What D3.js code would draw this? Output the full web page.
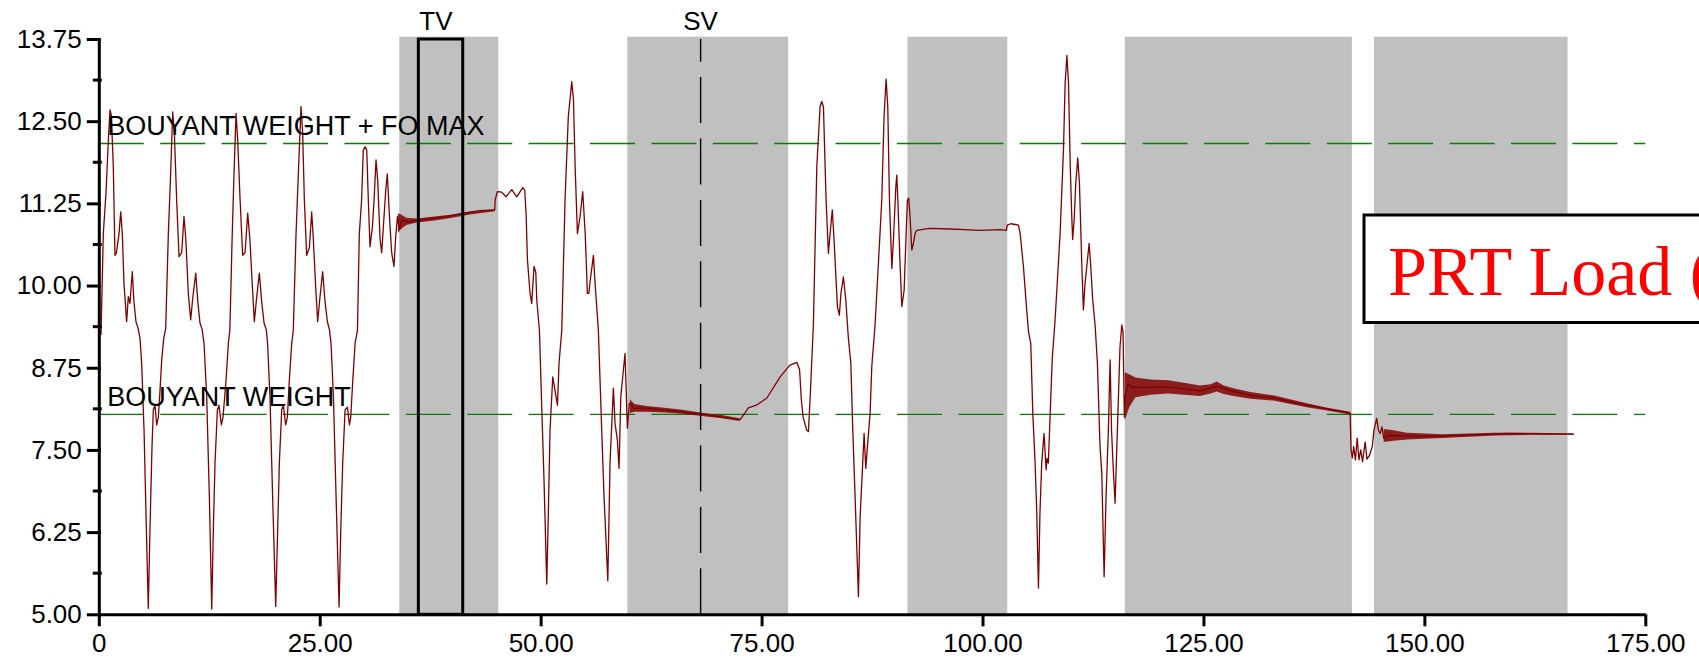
<!DOCTYPE html>
<html>
<head>
<meta charset="utf-8">
<script src="https://cdn.jsdelivr.net/npm/d3@7"></script>
<style>
body { margin: 0; background: #fff; overflow: hidden; }
text { font-family: Arial, "Liberation Sans", sans-serif; }
</style>
</head>
<body>
<div id="chart"></div>
<script>
let w = 1699, h = 660

let xTicks = [0, 25, 50, 75, 100, 125, 150, 175]
let yTicks = [5, 6.25, 7.5, 8.75, 10, 11.25, 12.5, 13.75]
let yMinorTicks = [5.625, 6.875, 8.125, 9.375, 10.625, 11.875, 13.125]

// grey windows on the time axis
let bands = [[34.0, 45.2], [59.8, 78.0], [91.5, 102.8], [116.1, 141.8], [144.3, 166.2]]
let refLines = [
	{label: "BOUYANT WEIGHT + FO MAX", value: 12.16},
	{label: "BOUYANT WEIGHT", value: 8.04}
]
let tvWindow = [36.16, 41.18]
let svTime = 68.1

// PRT load trace, [time, load]
let trace = [
	[0.25,9.25],[0.51,10.79],[0.81,11.4],[1.12,12.32],[1.27,12.67],[1.42,12.59],[1.64,11.81],[1.83,10.46],[2.0,10.5],
	[2.29,10.79],[2.48,11.12],[2.66,10.79],[2.85,10.03],[3.15,9.45],[3.34,9.83],[3.53,9.73],[3.79,10.21],[3.98,9.75],
	[4.21,9.45],[4.45,9.35],[4.66,9.2],[4.85,8.82],[5.12,7.8],[5.34,6.54],[5.6,5.09],[5.79,6.28],[6.02,7.55],[6.17,8.11],
	[6.36,8.18],[6.55,7.88],[6.74,8.0],[6.93,8.41],[7.12,8.87],[7.35,9.2],[7.57,9.35],[7.87,10.79],[8.13,11.7],[8.36,12.64],
	[8.55,12.32],[8.81,11.3],[9.08,10.44],[9.38,10.5],[9.64,11.05],[9.85,10.7],[10.13,9.88],[10.4,9.48],[10.62,9.8],
	[10.97,10.19],[11.2,9.76],[11.45,9.43],[11.7,9.33],[11.91,9.12],[12.21,8.31],[12.51,6.79],[12.78,5.08],[12.96,6.28],
	[13.15,7.3],[13.42,8.11],[13.6,8.18],[13.87,7.88],[14.06,8.0],[14.4,8.56],[14.66,9.12],[14.83,9.32],[15.1,10.79],
	[15.3,11.7],[15.53,12.62],[15.72,12.2],[15.99,11.3],[16.28,10.46],[16.55,10.5],[16.85,11.1],[17.1,10.7],[17.38,9.98],
	[17.6,9.45],[17.87,9.83],[18.17,10.19],[18.43,9.76],[18.7,9.43],[18.95,9.33],[19.1,9.12],[19.37,8.31],[19.67,6.79],
	[20.02,5.12],[20.24,6.28],[20.43,7.3],[20.7,8.11],[20.88,8.18],[21.15,7.88],[21.34,8.0],[21.56,8.56],[21.83,9.12],
	[22.01,9.32],[22.32,10.79],[22.58,11.7],[22.88,12.72],[23.07,12.32],[23.26,11.3],[23.52,10.46],[23.83,10.58],
	[24.09,11.12],[24.28,10.7],[24.54,9.98],[24.77,9.45],[25.03,9.83],[25.33,10.21],[25.6,9.76],[25.87,9.45],[26.1,9.33],
	[26.28,9.12],[26.55,8.31],[26.85,6.79],[27.19,5.11],[27.38,6.28],[27.6,7.3],[27.87,8.11],[28.13,8.15],[28.36,7.88],
	[28.51,8.0],[28.74,8.56],[29.0,9.12],[29.27,9.32],[29.48,10.79],[29.74,11.3],[29.93,12.06],[30.13,12.11],[30.32,12.06],
	[30.5,11.3],[30.69,10.59],[30.96,10.89],[31.15,11.3],[31.37,11.91],[31.56,11.6],[31.83,10.7],[32.01,10.5],[32.2,10.89],
	[32.47,11.45],[32.65,11.7],[32.87,11.1],[33.14,10.5],[33.4,10.29],[33.6,10.75],[33.8,11.05],[34.0,10.85],[34.3,11.0],
	[35.0,10.97],[37.5,11.02],[39.4,11.05],[41.25,11.1],[43.1,11.14],[44.8,11.15],[44.85,11.3],[45.1,11.43],[45.6,11.42],
	[46.08,11.35],[46.73,11.46],[47.3,11.35],[47.97,11.49],[48.2,11.45],[48.35,11.1],[48.5,10.4],[48.8,9.88],[48.99,9.73],
	[49.25,10.29],[49.45,10.2],[49.56,9.78],[49.86,9.32],[50.12,8.16],[50.38,7.04],[50.69,5.46],[50.87,6.54],[51.06,7.8],
	[51.37,8.61],[51.62,8.41],[51.9,8.18],[52.08,8.82],[52.39,9.32],[52.76,11.3],[53.13,12.57],[53.52,13.1],[53.71,12.84],
	[53.9,11.81],[54.16,10.79],[54.46,11.05],[54.76,11.43],[55.04,10.79],[55.29,9.88],[55.45,9.88],[55.63,10.1],
	[55.97,10.46],[56.16,10.03],[56.53,9.32],[56.91,7.8],[57.17,6.79],[57.6,5.51],[57.85,7.3],[58.23,8.44],[58.42,7.9],
	[58.68,7.65],[58.87,7.22],[59.07,8.31],[59.55,8.97],[59.81,7.83],[60.04,8.21],[60.2,8.2],[60.5,8.13],[61.5,8.14],
	[63.9,8.11],[66,8.08],[68.04,8.05],[70.5,8.0],[72.57,7.96],[73.1,8.06],[73.5,8.14],[74.4,8.18],[75.6,8.29],[77.1,8.61],
	[78.2,8.79],[79.0,8.83],[79.3,8.72],[79.5,8.26],[79.7,8.0],[80.1,7.8],[80.3,7.78],[80.5,8.31],[80.86,9.4],[81.25,11.81],
	[81.62,12.72],[81.81,12.8],[82.0,12.72],[82.3,11.3],[82.56,10.49],[82.75,10.79],[83.0,11.15],[83.2,10.7],[83.58,9.68],
	[83.8,9.55],[83.98,9.88],[84.26,10.13],[84.53,9.78],[84.82,9.2],[85.1,8.82],[85.32,7.8],[85.58,6.79],[85.96,5.27],
	[86.15,6.48],[86.35,7.04],[86.6,7.75],[86.79,7.22],[86.98,7.55],[87.28,8.06],[87.47,8.77],[87.84,9.4],[88.4,10.79],
	[88.6,11.3],[88.86,12.57],[89.09,13.14],[89.28,12.72],[89.47,11.3],[89.6,10.79],[89.74,10.26],[89.92,10.7],[90.19,11.5],
	[90.3,11.68],[90.42,11.3],[90.68,10.29],[90.87,9.68],[91.13,9.93],[91.36,10.79],[91.5,11.3],[91.65,11.33],[91.8,11.05],
	[92.0,10.54],[92.18,10.64],[92.37,10.79],[92.56,10.84],[94,10.87],[96.3,10.86],[98,10.85],[99.7,10.84],[102.0,10.85],
	[102.7,10.84],[102.8,10.92],[103.2,10.94],[104.07,10.92],[104.26,10.79],[104.63,10.29],[105.0,9.63],[105.2,9.3],
	[105.46,9.12],[105.69,8.06],[105.95,7.3],[106.14,6.54],[106.33,5.4],[106.5,6.54],[106.7,7.3],[106.96,7.75],[107.2,7.2],
	[107.3,7.37],[107.45,7.3],[107.73,8.31],[107.9,8.91],[108.2,9.45],[108.78,10.79],[109.16,12.06],[109.35,13.08],
	[109.55,13.5],[109.73,13.08],[109.93,11.81],[110.1,11.05],[110.2,10.7],[110.37,11.0],[110.55,11.55],[110.78,11.94],
	[110.97,11.55],[111.24,10.29],[111.42,9.63],[111.6,10.03],[111.8,10.29],[112.06,10.64],[112.25,10.29],[112.47,9.78],
	[112.74,9.4],[113.0,8.82],[113.3,7.55],[113.5,7.14],[113.76,5.57],[113.98,6.79],[114.24,7.8],[114.44,8.87],[114.6,7.8],
	[114.8,7.2],[115.0,6.69],[115.2,7.55],[115.38,8.31],[115.56,9.07],[115.76,9.4],[115.9,9.3],[116.05,8.0],[116.1,8.3],
	[116.5,8.5],[117,8.45],[119,8.45],[121,8.46],[122.8,8.43],[124.6,8.4],[126.5,8.47],[128.4,8.39],[130.3,8.33],
	[132.9,8.29],[136.7,8.18],[141.6,8.06],[141.7,7.5],[141.85,7.38],[142.0,7.55],[142.2,7.35],[142.4,7.68],[142.6,7.35],
	[142.8,7.5],[143.0,7.32],[143.3,7.62],[143.5,7.36],[143.8,7.42],[144.1,7.55],[144.3,7.8],[144.6,7.98],[144.8,7.8],
	[145.0,7.75],[145.2,7.85],[145.4,7.68],[146,7.72],[148,7.71],[151.8,7.71],[155.6,7.73],[159.3,7.75],[163.1,7.745],
	[166.9,7.74]
]

// spread of the noisy stretches, [time, low, high]
let noiseTv = [[33.85,10.8,11.1],[34.2,10.86,11.08],[34.8,10.92,11.03],[36,10.96,11.02],[38,10.99,11.05],[40,11.03,11.08],[42,11.08,11.12],[44.8,11.13,11.16]]
let noiseSv = [[60.1,8.06,8.27],[60.6,8.08,8.2],[62,8.08,8.17],[64,8.07,8.14],[66,8.05,8.11],[68,8.02,8.07],[70.5,7.98,8.03],[72.5,7.94,7.98]]
let noiseFourth = [[116.1,7.95,8.68],[116.6,8.15,8.65],[117.3,8.3,8.6],[119,8.34,8.57],[121,8.36,8.56],[122.8,8.34,8.52],[124.6,8.32,8.48],[125.8,8.36,8.5],[126.5,8.39,8.54],[127.3,8.35,8.48],[128.4,8.32,8.44],[130.3,8.28,8.38],[132.9,8.25,8.33],[136.7,8.15,8.21],[139,8.1,8.14],[141.6,8.04,8.08]]
let noiseFifth = [[145.4,7.62,7.82],[146.5,7.64,7.8],[148,7.66,7.76],[150,7.67,7.75],[152,7.68,7.74],[155,7.7,7.75],[158,7.72,7.76],[162,7.73,7.76],[166.9,7.73,7.75]]

let svg = d3.select("#chart").append("svg")
	.attr("width", w)
	.attr("height", h)

let x = d3.scaleLinear().domain([0, 175]).range([98.8, 1645.3])
let y = d3.scaleLinear().domain([5, 13.75]).range([614.3, 39])

// Grey windows
svg.selectAll("rect.band")
	.data(bands)
	.enter()
	.append("rect")
	.attr("class", "band")
	.attr("x", d => x(d[0]))
	.attr("y", y(13.785))
	.attr("width", d => x(d[1]) - x(d[0]))
	.attr("height", y(4.972) - y(13.785))
	.attr("fill", "#c0c0c0")

// Reference lines
svg.selectAll("line.ref")
	.data(refLines)
	.enter()
	.append("line")
	.attr("x1", x(0))
	.attr("x2", x(175))
	.attr("y1", d => y(d.value))
	.attr("y2", d => y(d.value))
	.attr("stroke", "#008000")
	.attr("stroke-width", 1.4)
	.attr("stroke-dasharray", "45,16.4")

// Noise spread
let area = d3.area().x(d => x(d[0])).y0(d => y(d[1])).y1(d => y(d[2]))
svg.selectAll("path.noise")
	.data([noiseTv, noiseSv, noiseFourth, noiseFifth])
	.enter()
	.append("path")
	.attr("d", area)
	.attr("fill", "#800000")
	.attr("fill-opacity", 0.85)

// Trace
let line = d3.line().x(d => x(d[0])).y(d => y(d[1]))
svg.append("path")
	.datum(trace)
	.attr("d", line)
	.attr("fill", "none")
	.attr("stroke", "#800000")
	.attr("stroke-width", 1.3)
	.attr("stroke-linejoin", "round")

// TV box
svg.append("rect")
	.attr("x", x(tvWindow[0]))
	.attr("y", y(13.75))
	.attr("width", x(tvWindow[1]) - x(tvWindow[0]))
	.attr("height", y(5) - y(13.75))
	.attr("fill", "none")
	.attr("stroke", "#000")
	.attr("stroke-width", 3)

svg.append("text")
	.attr("x", x(tvWindow[0]) + 1)
	.attr("y", 30)
	.attr("font-size", 26)
	.text("TV")

// SV marker
svg.append("line")
	.attr("x1", x(svTime)).attr("x2", x(svTime))
	.attr("y1", y(5)).attr("y2", y(13.75))
	.attr("stroke", "#000")
	.attr("stroke-width", 1.4)
	.attr("stroke-dasharray", "46,15.4")

svg.append("text")
	.attr("x", x(svTime))
	.attr("y", 30)
	.attr("text-anchor", "middle")
	.attr("font-size", 26)
	.text("SV")

// Reference labels
svg.selectAll("text.ref")
	.data(refLines)
	.enter()
	.append("text")
	.attr("x", x(0) + 8.5)
	.attr("y", d => y(d.value) - 8.3)
	.attr("font-size", 27)
	.text(d => d.label)

// Axes
let fmt = d => d === 0 ? "0" : d.toFixed(2)

let xAxis = svg.append("g")
	.attr("transform", "translate(0," + y(5) + ")")
	.call(d3.axisBottom(x).tickValues(xTicks).tickFormat(fmt).tickSize(12).tickSizeOuter(0).tickPadding(7))

let yAxis = svg.append("g")
	.attr("transform", "translate(" + x(0) + ",0)")
	.call(d3.axisLeft(y).tickValues(yTicks).tickFormat(fmt).tickSize(12).tickSizeOuter(0).tickPadding(5))

yAxis.selectAll(".tick line").attr("x2", 2).attr("x1", -12)

svg.selectAll("line.minor")
	.data(yMinorTicks)
	.enter()
	.append("line")
	.attr("x1", x(0) - 6)
	.attr("x2", x(0) + 3)
	.attr("y1", d => y(d))
	.attr("y2", d => y(d))
	.attr("stroke", "#000")
	.attr("stroke-width", 3)

svg.selectAll(".domain").attr("stroke-width", 3)
svg.selectAll(".tick line").attr("stroke-width", 3)
svg.selectAll(".tick text")
	.attr("font-size", 26)
	.attr("font-family", "Arial, 'Liberation Sans', sans-serif")
	.attr("fill", "#000")

// Legend box, runs off the right edge as in the original
svg.append("rect")
	.attr("x", 1364)
	.attr("y", 215)
	.attr("width", 420)
	.attr("height", 107.5)
	.attr("fill", "#fff")
	.attr("stroke", "#000")
	.attr("stroke-width", 3)

svg.append("text")
	.attr("x", 1388)
	.attr("y", 295)
	.style("font-family", "'Liberation Serif', 'Times New Roman', serif")
	.attr("font-size", 70)
	.attr("fill", "#ff0000")
	.text("PRT Load (lbs)")
</script>
</body>
</html>
